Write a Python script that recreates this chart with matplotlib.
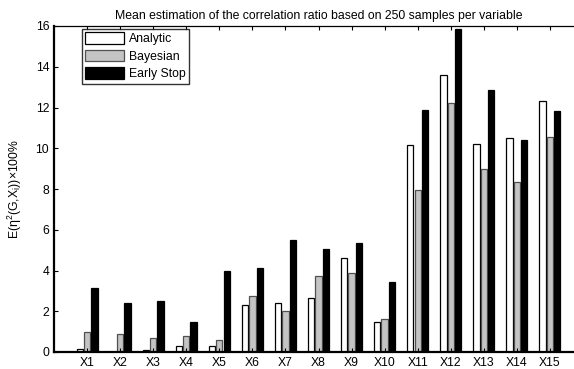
import numpy as np
import matplotlib
matplotlib.use("Agg")
import matplotlib.pyplot as plt

plt.rcParams['font.family'] = ['Liberation Sans', 'DejaVu Sans']
plt.rcParams['mathtext.fontset'] = 'custom'
plt.rcParams['mathtext.rm'] = 'Liberation Sans'

categories = [f"X{i}" for i in range(1, 16)]
analytic = [0.13, 0.0, 0.10, 0.30, 0.28, 2.30, 2.41, 2.65, 4.62, 1.49,
            10.18, 13.59, 10.21, 10.52, 12.31]
bayesian = [1.00, 0.89, 0.67, 0.77, 0.60, 2.77, 2.00, 3.72, 3.90, 1.64,
            7.95, 12.20, 8.98, 8.36, 10.56]
early_stop = [3.13, 2.41, 2.49, 1.46, 4.00, 4.10, 5.48, 5.05, 5.33, 3.42,
              11.87, 15.85, 12.85, 10.39, 11.85]
yticks = [0, 2, 4, 6, 8, 10, 12, 14, 16]

W, H = 574, 369
fig = plt.figure(figsize=(W / 100, H / 100), dpi=100)
# axes box: left 54px, bottom 352px, top 26px; xlim spans 0..16 so the right edge runs past the canvas
x0, x1, ytop, ybot = 54, 583, 26, 352
ax = fig.add_axes([x0 / W, 1 - ybot / H, (x1 - x0) / W, (ybot - ytop) / H])

fs = 8.8
x = np.arange(1, len(categories) + 1)
off = 0.222
bw = 0.19
ax.bar(x - off, analytic, bw, color='white', edgecolor='black', linewidth=0.9, label='Analytic')
ax.bar(x, bayesian, bw, color='#c4c4c4', edgecolor='#505050', linewidth=0.9, label='Bayesian')
ax.bar(x + off, early_stop, bw, color='black', edgecolor='black', linewidth=0.9, label='Early Stop')

ax.set_xlim(0, 16)
ax.set_ylim(0, 16)
ax.set_xticks(x)
ax.set_xticklabels(categories)
ax.set_yticks(yticks)
ax.tick_params(axis='both', direction='in', labelsize=fs, length=3, width=0.8, top=True, right=False)
ax.tick_params(axis='x', pad=3.5)
for s in ['left', 'bottom']:
    ax.spines[s].set_linewidth(1.6)
ax.spines['top'].set_linewidth(0.9)
ax.spines['right'].set_visible(False)

ax.set_title('Mean estimation of the correlation ratio based on 250 samples per variable',
             fontsize=fs, pad=5)
ax.set_ylabel(r'E(η$^2$(G,X$_\mathrm{i}$))×100%', fontsize=fs, labelpad=8)

leg = ax.legend(loc='upper left', bbox_to_anchor=(27.5 / (x1 - x0), 1 - 2.7 / (ybot - ytop)),
                fontsize=fs, frameon=True, fancybox=False, edgecolor='black',
                handlelength=3.2, handleheight=1.05, handletextpad=0.35,
                borderpad=0.3, labelspacing=0.38, borderaxespad=0)
leg.get_frame().set_linewidth(1.0)

fig.savefig('out.png', dpi=100)
